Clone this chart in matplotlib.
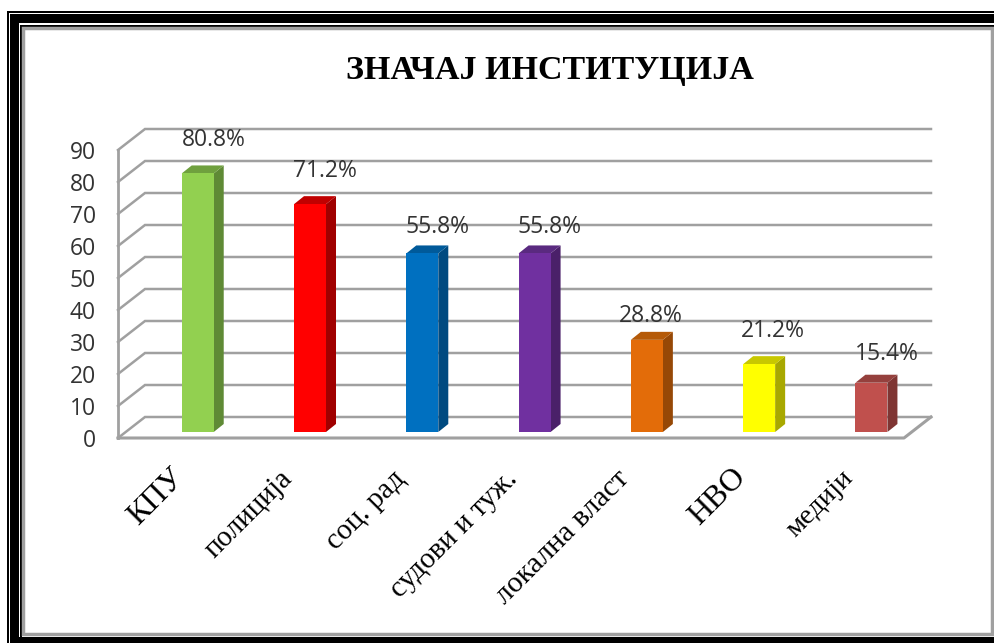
import numpy as np
import matplotlib
matplotlib.use('Agg')
import matplotlib.pyplot as plt
from matplotlib.patches import Polygon, Rectangle

W, H = 994, 643

categories = ['КПУ', 'полиција', 'соц. рад', 'судови и туж.', 'локална власт', 'НВО', 'медији']
values = [80.8, 71.2, 55.8, 55.8, 28.8, 21.2, 15.4]
value_labels = ['80.8%', '71.2%', '55.8%', '55.8%', '28.8%', '21.2%', '15.4%']
front_colors = ['#92D050', '#FF0000', '#0070C0', '#7030A0', '#E36C09', '#FFFF00', '#C0504D']
side_colors = ['#5F8A35', '#A00000', '#004A80', '#4A2069', '#964806', '#A8A800', '#7F3533']
top_colors = ['#6FA03E', '#C00000', '#005A9A', '#5A2A80', '#B55A08', '#C8C800', '#95403D']
y_ticks = list(range(0, 100, 10))
# label size differs in the original
label_sizes = [23, 21, 21, 21, 21.5, 23, 20.5]
# value labels were moved by hand in the original (px)
label_up = [21, 21, 14, 14, 12, 21, 17]
label_right = [1, 0, 0, 0, -11, -1, 0]

GRID = '#A0A0A0'

fig = plt.figure(figsize=(W / 100, H / 100), dpi=100, facecolor='white')

# background layer in pixels, for the picture frame
bg = fig.add_axes([0, 0, 1, 1])
bg.set_xlim(0, W)
bg.set_ylim(H, 0)
bg.axis('off')
bg.add_patch(Rectangle((7, 11), W - 7, 2, color='black', lw=0))
bg.add_patch(Rectangle((7, 11), 2, H - 11, color='black', lw=0))
bg.add_patch(Rectangle((10, 14), W - 10, 9, color='black', lw=0))
bg.add_patch(Rectangle((10, 14), 9, H - 14, color='black', lw=0))
bg.add_patch(Rectangle((20, 25), W - 20, 2, color='black', lw=0))
bg.add_patch(Rectangle((20, 25), 2, H - 25, color='black', lw=0))
bg.add_patch(Rectangle((10, 637), W, 6, color='black', lw=0))
bg.add_patch(Rectangle((23, 28), W - 25, 606, fc='white', ec='#A0A0A0', lw=2.5))

# front plane of the chart: x in categories, y in percent
left, right, y0, y90 = 118, 904, 438, 150
ax = fig.add_axes([left / W, 1 - y0 / H, (right - left) / W, (y0 - y90) / H])
ax.set_xlim(0, 7)
ax.set_ylim(0, 90)
ax.patch.set_alpha(0)
for s in ax.spines.values():
    s.set_visible(False)

dx_wall, dy_wall = 27 / 112.3, 21 / 3.2
dx_bar, dy_bar = 10 / 112.3, 8 / 3.2
bar_w = 32 / 112.3
bar_shift = 0.71
bar_lift = 6 / 3.2

# walls and gridlines
for t in y_ticks:
    ax.plot([0, dx_wall, 7 + dx_wall], [t, t + dy_wall, t + dy_wall], color=GRID, lw=1.8,
            clip_on=False, zorder=1, solid_joinstyle='miter')
ax.plot([0, 0], [0, 90], color=GRID, lw=2, clip_on=False, zorder=1)
ax.plot([0, 7, 7 + dx_wall], [0, 0, dy_wall], color=GRID, lw=2.2, clip_on=False, zorder=1)

# bars with fake 3d sides
for i, v in enumerate(values):
    x0 = i + bar_shift - bar_w / 2
    x1 = x0 + bar_w
    b = bar_lift
    t = b + v
    ax.add_patch(Polygon([(x1, b), (x1 + dx_bar, b + dy_bar), (x1 + dx_bar, t + dy_bar), (x1, t)],
                         fc=side_colors[i], ec='none', clip_on=False, zorder=3))
    ax.add_patch(Polygon([(x0, t), (x0 + dx_bar, t + dy_bar), (x1 + dx_bar, t + dy_bar), (x1, t)],
                         fc=top_colors[i], ec='none', clip_on=False, zorder=3))
    ax.add_patch(Rectangle((x0, b), bar_w, v, fc=front_colors[i], ec='none', clip_on=False, zorder=4))
    ax.text(i + bar_shift + 0.135 + label_right[i] / 112.3, t + label_up[i] / 3.2, value_labels[i],
            ha='center', va='bottom', fontsize=16.5, family='Open Sans', color='#333333',
            zorder=5, clip_on=False)

ax.set_yticks(y_ticks)
ax.set_yticklabels([str(t) for t in y_ticks], fontsize=16.5, family='Open Sans', color='#333333')
ax.tick_params(axis='y', length=0, pad=16)
ax.set_xticks([])

# rotated category labels, right-top end anchored under each bar
for i, c in enumerate(categories):
    big = label_sizes[i] > 22
    ax.annotate(c, xy=(i + bar_shift, 0), xytext=(-20 if big else -22, -18 if big else -20),
                textcoords='offset points', rotation=45, rotation_mode='anchor', ha='right', va='top',
                fontsize=label_sizes[i], family='Liberation Serif', color='black', annotation_clip=False)

fig.text(550 / W, 1 - 71 / H, 'ЗНАЧАЈ ИНСТИТУЦИЈА', ha='center', va='center',
         fontsize=24.5, family='Liberation Serif', weight='bold', color='black')

fig.savefig('out.png', dpi=100)
